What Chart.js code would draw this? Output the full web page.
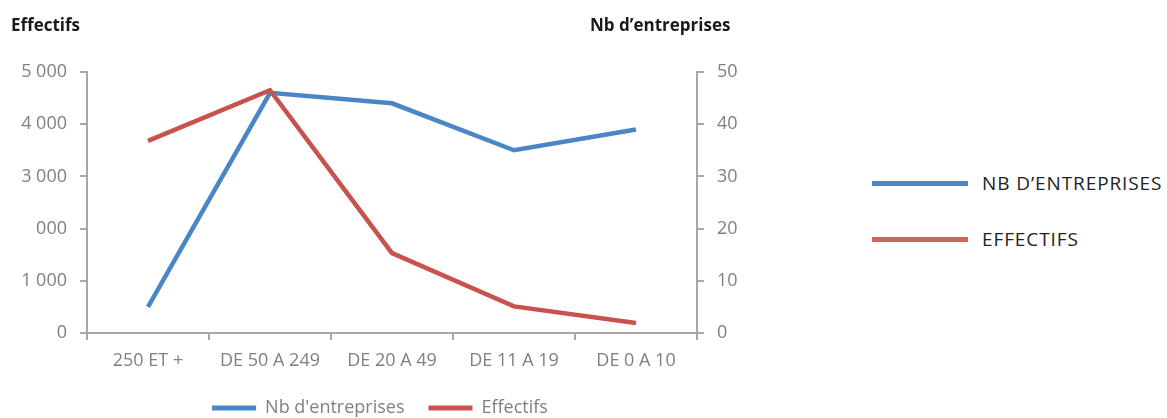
<!DOCTYPE html>
<html>
<head>
<meta charset="utf-8">
<script src="https://cdn.jsdelivr.net/npm/chart.js@4/dist/chart.umd.min.js"></script>
<style>
  html, body { margin: 0; padding: 0; background: #fff; overflow: hidden; }
  #wrap { position: relative; width: 1167px; height: 418px; font-family: "Open Sans", sans-serif; overflow: hidden; }
  #chartBox { position: absolute; left: 0; top: 0; width: 760px; height: 418px; }
  .axisTitle { position: absolute; top: 13px; font-weight: bold; font-size: 17px; color: #1a1a1a; }
  .sideLegend { position: absolute; left: 872px; font-size: 19px; color: #222; letter-spacing: 0.9px; }
  .sideLegend span.line { position: absolute; left: 0; width: 96px; height: 5px; }
  .sideLegend span.txt { position: absolute; left: 110px; white-space: nowrap; line-height: 20px; top: -10px; }
</style>
</head>
<body>
<div id="wrap">
  <div id="chartBox"><canvas id="lineChart"></canvas></div>
  <div class="axisTitle" style="left:11px">Effectifs</div>
  <div class="axisTitle" style="left:590px">Nb d’entreprises</div>
  <div class="sideLegend" style="top:183px"><span class="line" style="background:#4f86c6;top:-2px"></span><span class="txt">NB D’ENTREPRISES</span></div>
  <div class="sideLegend" style="top:239px"><span class="line" style="background:#d2625c;top:-2px"></span><span class="txt">EFFECTIFS</span></div>
</div>
<script>
// categories and series
var categories = ["250 ET +", "DE 50 A 249", "DE 20 A 49", "DE 11 A 19", "DE 0 A 10"];
var nbEntreprises = [5, 46, 44, 35, 39];
var effectifs = [3680, 4650, 1530, 510, 190];
// left axis labels as printed (2 000 shows as "000")
var leftTickLabels = ["0", "1 000", "000", "3 000", "4 000", "5 000"];
var rightTickLabels = ["0", "10", "20", "30", "40", "50"];

var axisGrey = "#a9a6a4";
var tickGrey = "#857e7a";
var blue = "#4a86c6";
var red = "#c9514e";

var tickFont = { family: "Open Sans", size: 18 };

var ctx = document.getElementById("lineChart");
var lineChart = new Chart(ctx, {
    type: 'line',
    data: {
        labels: categories,
        datasets: [
            {
                label: "Nb d'entreprises",
                data: nbEntreprises,
                yAxisID: 'yRight',
                borderColor: blue,
                backgroundColor: blue,
                borderWidth: 4.5,
                pointRadius: 0,
                tension: 0,
                order: 2
            },
            {
                label: "Effectifs",
                data: effectifs,
                yAxisID: 'yLeft',
                borderColor: red,
                backgroundColor: red,
                borderWidth: 4.5,
                pointRadius: 0,
                tension: 0,
                order: 1
            }
        ]
    },
    options: {
        responsive: true,
        maintainAspectRatio: false,
        animation: false,
        // negative bottom padding pushes the legend down to the page edge
        layout: { padding: { top: 72, bottom: -9, left: 0, right: 0 } },
        plugins: {
            tooltip: { enabled: false },
            legend: {
                position: 'bottom',
                labels: {
                    color: tickGrey,
                    font: { family: "Open Sans", size: 18 },
                    boxWidth: 44,
                    boxHeight: 5,
                    padding: 24,
                    generateLabels: function (chart) {
                        return chart.data.datasets.map(function (ds, i) {
                            return {
                                text: ds.label,
                                fillStyle: ds.borderColor,
                                strokeStyle: ds.borderColor,
                                lineWidth: 0,
                                fontColor: tickGrey,
                                datasetIndex: i
                            };
                        });
                    }
                }
            }
        },
        scales: {
            x: {
                offset: true,
                grid: { offset: true, drawOnChartArea: false, color: axisGrey, tickLength: 7, lineWidth: 2 },
                border: { color: axisGrey, width: 2 },
                ticks: { color: tickGrey, font: tickFont, padding: 10, maxRotation: 0 },
                afterFit: function (scale) { scale.height = 42; }
            },
            yLeft: {
                position: 'left',
                min: 0,
                max: 5000,
                grid: { drawOnChartArea: false, color: axisGrey, tickLength: 7, lineWidth: 2 },
                border: { color: axisGrey, width: 2 },
                ticks: {
                    stepSize: 1000,
                    color: tickGrey,
                    font: tickFont,
                    padding: 13,
                    callback: function (v) { return leftTickLabels[v / 1000]; }
                },
                afterFit: function (scale) { scale.width = 87; }
            },
            yRight: {
                position: 'right',
                min: 0,
                max: 50,
                grid: { drawOnChartArea: false, color: axisGrey, tickLength: 7, lineWidth: 2 },
                border: { color: axisGrey, width: 2 },
                ticks: {
                    stepSize: 10,
                    color: tickGrey,
                    font: tickFont,
                    padding: 13,
                    callback: function (v) { return rightTickLabels[v / 10]; }
                },
                afterFit: function (scale) { scale.width = 63; }
            }
        }
    }
});
</script>
</body>
</html>
